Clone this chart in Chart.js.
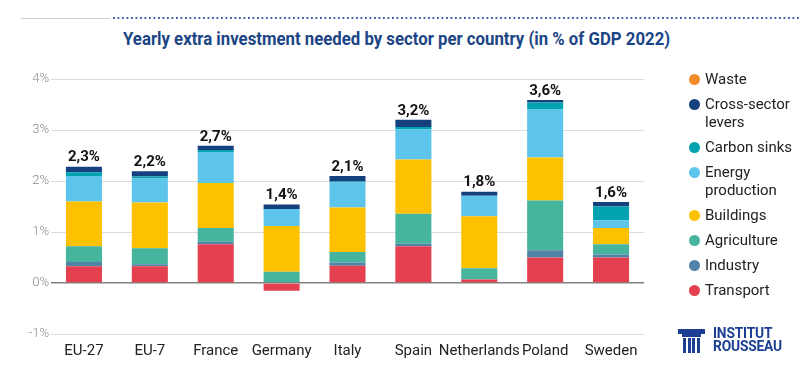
<!DOCTYPE html>
<html>
<head>
<meta charset="utf-8">
<script src="https://cdn.jsdelivr.net/npm/chart.js@4"></script>
<style>
  body { margin: 0; background: #fff; font-family: Roboto, sans-serif; }
  #wrap { position: relative; width: 806px; height: 372px; overflow: hidden; }
  #myChart { position: absolute; left: 0; top: 0; }
  .line-gray { position: absolute; left: 21px; top: 18px; width: 89px; height: 1px; background: #cfcfcf; }
  .line-dots { position: absolute; left: 113px; top: 17px; width: 686px; height: 2px;
    background: linear-gradient(to right, #3d5ca8 1.5px, transparent 1.5px) 0 0 / 4.5px 2px repeat-x; }
  #title { position: absolute; top: 28px; left: 0; white-space: nowrap; transform-origin: left top;
    font-family: "Liberation Sans Narrow", Roboto, sans-serif; font-weight: 700; font-size: 18px; color: #1b4585; }
  #legend { position: absolute; left: 689px; top: 70px; }
  .item { display: flex; align-items: flex-start; margin-bottom: 7px; font-size: 15px; line-height: 18px; color: #222; }
  .dot { width: 11px; height: 11px; border-radius: 50%; margin-top: 4px; margin-right: 5px; flex: none; }
  #logo { position: absolute; left: 678px; top: 329px; }
  .cap { position: absolute; left: 0; top: 0; width: 27px; height: 5px; background: #1c3f94; }
  .ech { position: absolute; left: 4px; top: 5px; width: 19px; height: 3px; background: #1c3f94; }
  .col { position: absolute; top: 9px; width: 3px; height: 15px; background: #1c3f94; }
  .logo-text { position: absolute; left: 35px; top: -2px; font-weight: 700; font-size: 15px; line-height: 13px;
    color: #1c3f94; letter-spacing: -0.2px; transform: scaleX(0.92); transform-origin: left top; }
</style>
</head>
<body>
<div id="wrap">
  <div class="line-gray"></div>
  <div class="line-dots"></div>
  <div id="title">Yearly extra investment needed by sector per country (in % of GDP 2022)</div>
  <canvas id="myChart" width="806" height="372"></canvas>
  <div id="legend"></div>
  <div id="logo">
    <div class="cap"></div>
    <div class="ech"></div>
    <div class="col" style="left:5px"></div>
    <div class="col" style="left:10px"></div>
    <div class="col" style="left:14px"></div>
    <div class="col" style="left:19px"></div>
    <div class="logo-text">INSTITUT<br>ROUSSEAU</div>
  </div>
</div>
<script>
//data (% of GDP 2022)
const countries = ['EU-27', 'EU-7', 'France', 'Germany', 'Italy', 'Spain', 'Netherlands', 'Poland', 'Sweden'];

const transport   = [0.33, 0.33, 0.76, -0.15, 0.34, 0.72, 0.07, 0.50, 0.50];
const industry    = [0.08, 0.04, 0.05, 0.02, 0.06, 0.05, 0.00, 0.14, 0.06];
const agriculture = [0.31, 0.31, 0.27, 0.20, 0.21, 0.59, 0.22, 0.98, 0.20];
const buildings   = [0.88, 0.90, 0.88, 0.90, 0.87, 1.06, 1.02, 0.84, 0.32];
const energy      = [0.50, 0.47, 0.61, 0.33, 0.49, 0.59, 0.40, 0.94, 0.15];
const carbonSinks = [0.07, 0.04, 0.04, 0.00, 0.02, 0.05, 0.00, 0.14, 0.27];
const crossSector = [0.11, 0.10, 0.08, 0.09, 0.11, 0.14, 0.08, 0.05, 0.09];
const waste       = [0, 0, 0, 0, 0, 0, 0, 0, 0];

const sectorNames = ['Transport', 'Industry', 'Agriculture', 'Buildings', ['Energy', 'production'], 'Carbon sinks', ['Cross-sector', 'levers'], 'Waste'];
const sectorColors = ['#e4404f', '#5083a6', '#47b59d', '#fdc100', '#5dc4ec', '#00a3af', '#15417f', '#f28c28'];
const sectorValues = [transport, industry, agriculture, buildings, energy, carbonSinks, crossSector, waste];

const yTicks = [-1, 0, 1, 2, 3, 4];

//fit title width
const title = document.getElementById("title");
const titleWidth = 547;
title.style.transform = 'scaleX(' + (titleWidth / title.offsetWidth) + ')';
title.style.left = '123px';

//legend (top to bottom = Waste ... Transport)
const legend = document.getElementById("legend");
for (let i = sectorNames.length - 1; i >= 0; i--) {
    const name = Array.isArray(sectorNames[i]) ? sectorNames[i].join('<br>') : sectorNames[i];
    legend.innerHTML += '<div class="item"><span class="dot" style="background:' + sectorColors[i] + '"></span><span>' + name + '</span></div>';
}

//total labels above each bar
const totalLabels = {
    id: 'totalLabels',
    afterDatasetsDraw(chart) {
        const ctx = chart.ctx;
        const y = chart.scales.y;
        const meta = chart.getDatasetMeta(0);
        ctx.save();
        ctx.font = 'bold 15px Roboto';
        ctx.fillStyle = '#111';
        ctx.textAlign = 'center';
        ctx.textBaseline = 'middle';
        countries.forEach((c, i) => {
            let pos = 0, net = 0;
            sectorValues.forEach(s => { net += s[i]; if (s[i] > 0) pos += s[i]; });
            const txt = net.toFixed(1).replace('.', ',') + '%';
            ctx.fillText(txt, meta.data[i].x, y.getPixelForValue(pos) - 9);
        });
        ctx.restore();
    }
};

//chart display
const ctx = document.getElementById('myChart').getContext('2d');
const chart = new Chart(ctx, {
    type: 'bar',
    data: {
        labels: countries,
        datasets: sectorValues.map((vals, i) => ({
            label: Array.isArray(sectorNames[i]) ? sectorNames[i].join(' ') : sectorNames[i],
            data: vals,
            backgroundColor: sectorColors[i],
            borderWidth: 0,
            barPercentage: 0.547,
            categoryPercentage: 1
        }))
    },
    options: {
        responsive: false,
        animation: false,
        devicePixelRatio: 1,
        layout: { padding: { top: 79, left: 0, right: 162, bottom: 0 } },
        plugins: {
            legend: { display: false },
            tooltip: { enabled: false }
        },
        scales: {
            x: {
                stacked: true,
                grid: { display: false },
                border: { display: false },
                ticks: { color: '#222', font: { family: 'Roboto', size: 15 }, padding: 0, maxRotation: 0, autoSkip: false },
                afterFit(scale) { scale.height = 38; }
            },
            y: {
                stacked: true,
                min: yTicks[0],
                max: yTicks[yTicks.length - 1],
                afterBuildTicks(scale) { scale.ticks = yTicks.map(v => ({ value: v })); },
                grid: {
                    color: c => c.tick && c.tick.value === 0 ? '#808080' : '#dcdcdc',
                    lineWidth: c => c.tick && c.tick.value === 0 ? 1.5 : 1,
                    drawTicks: false
                },
                border: { display: false },
                ticks: {
                    color: '#8a8a8a',
                    font: { family: 'Roboto', size: 13, weight: 300 },
                    padding: 2,
                    callback: v => v + '%'
                },
                afterFit(scale) { scale.width = 51; }
            }
        }
    },
    plugins: [totalLabels]
});
</script>
</body>
</html>
